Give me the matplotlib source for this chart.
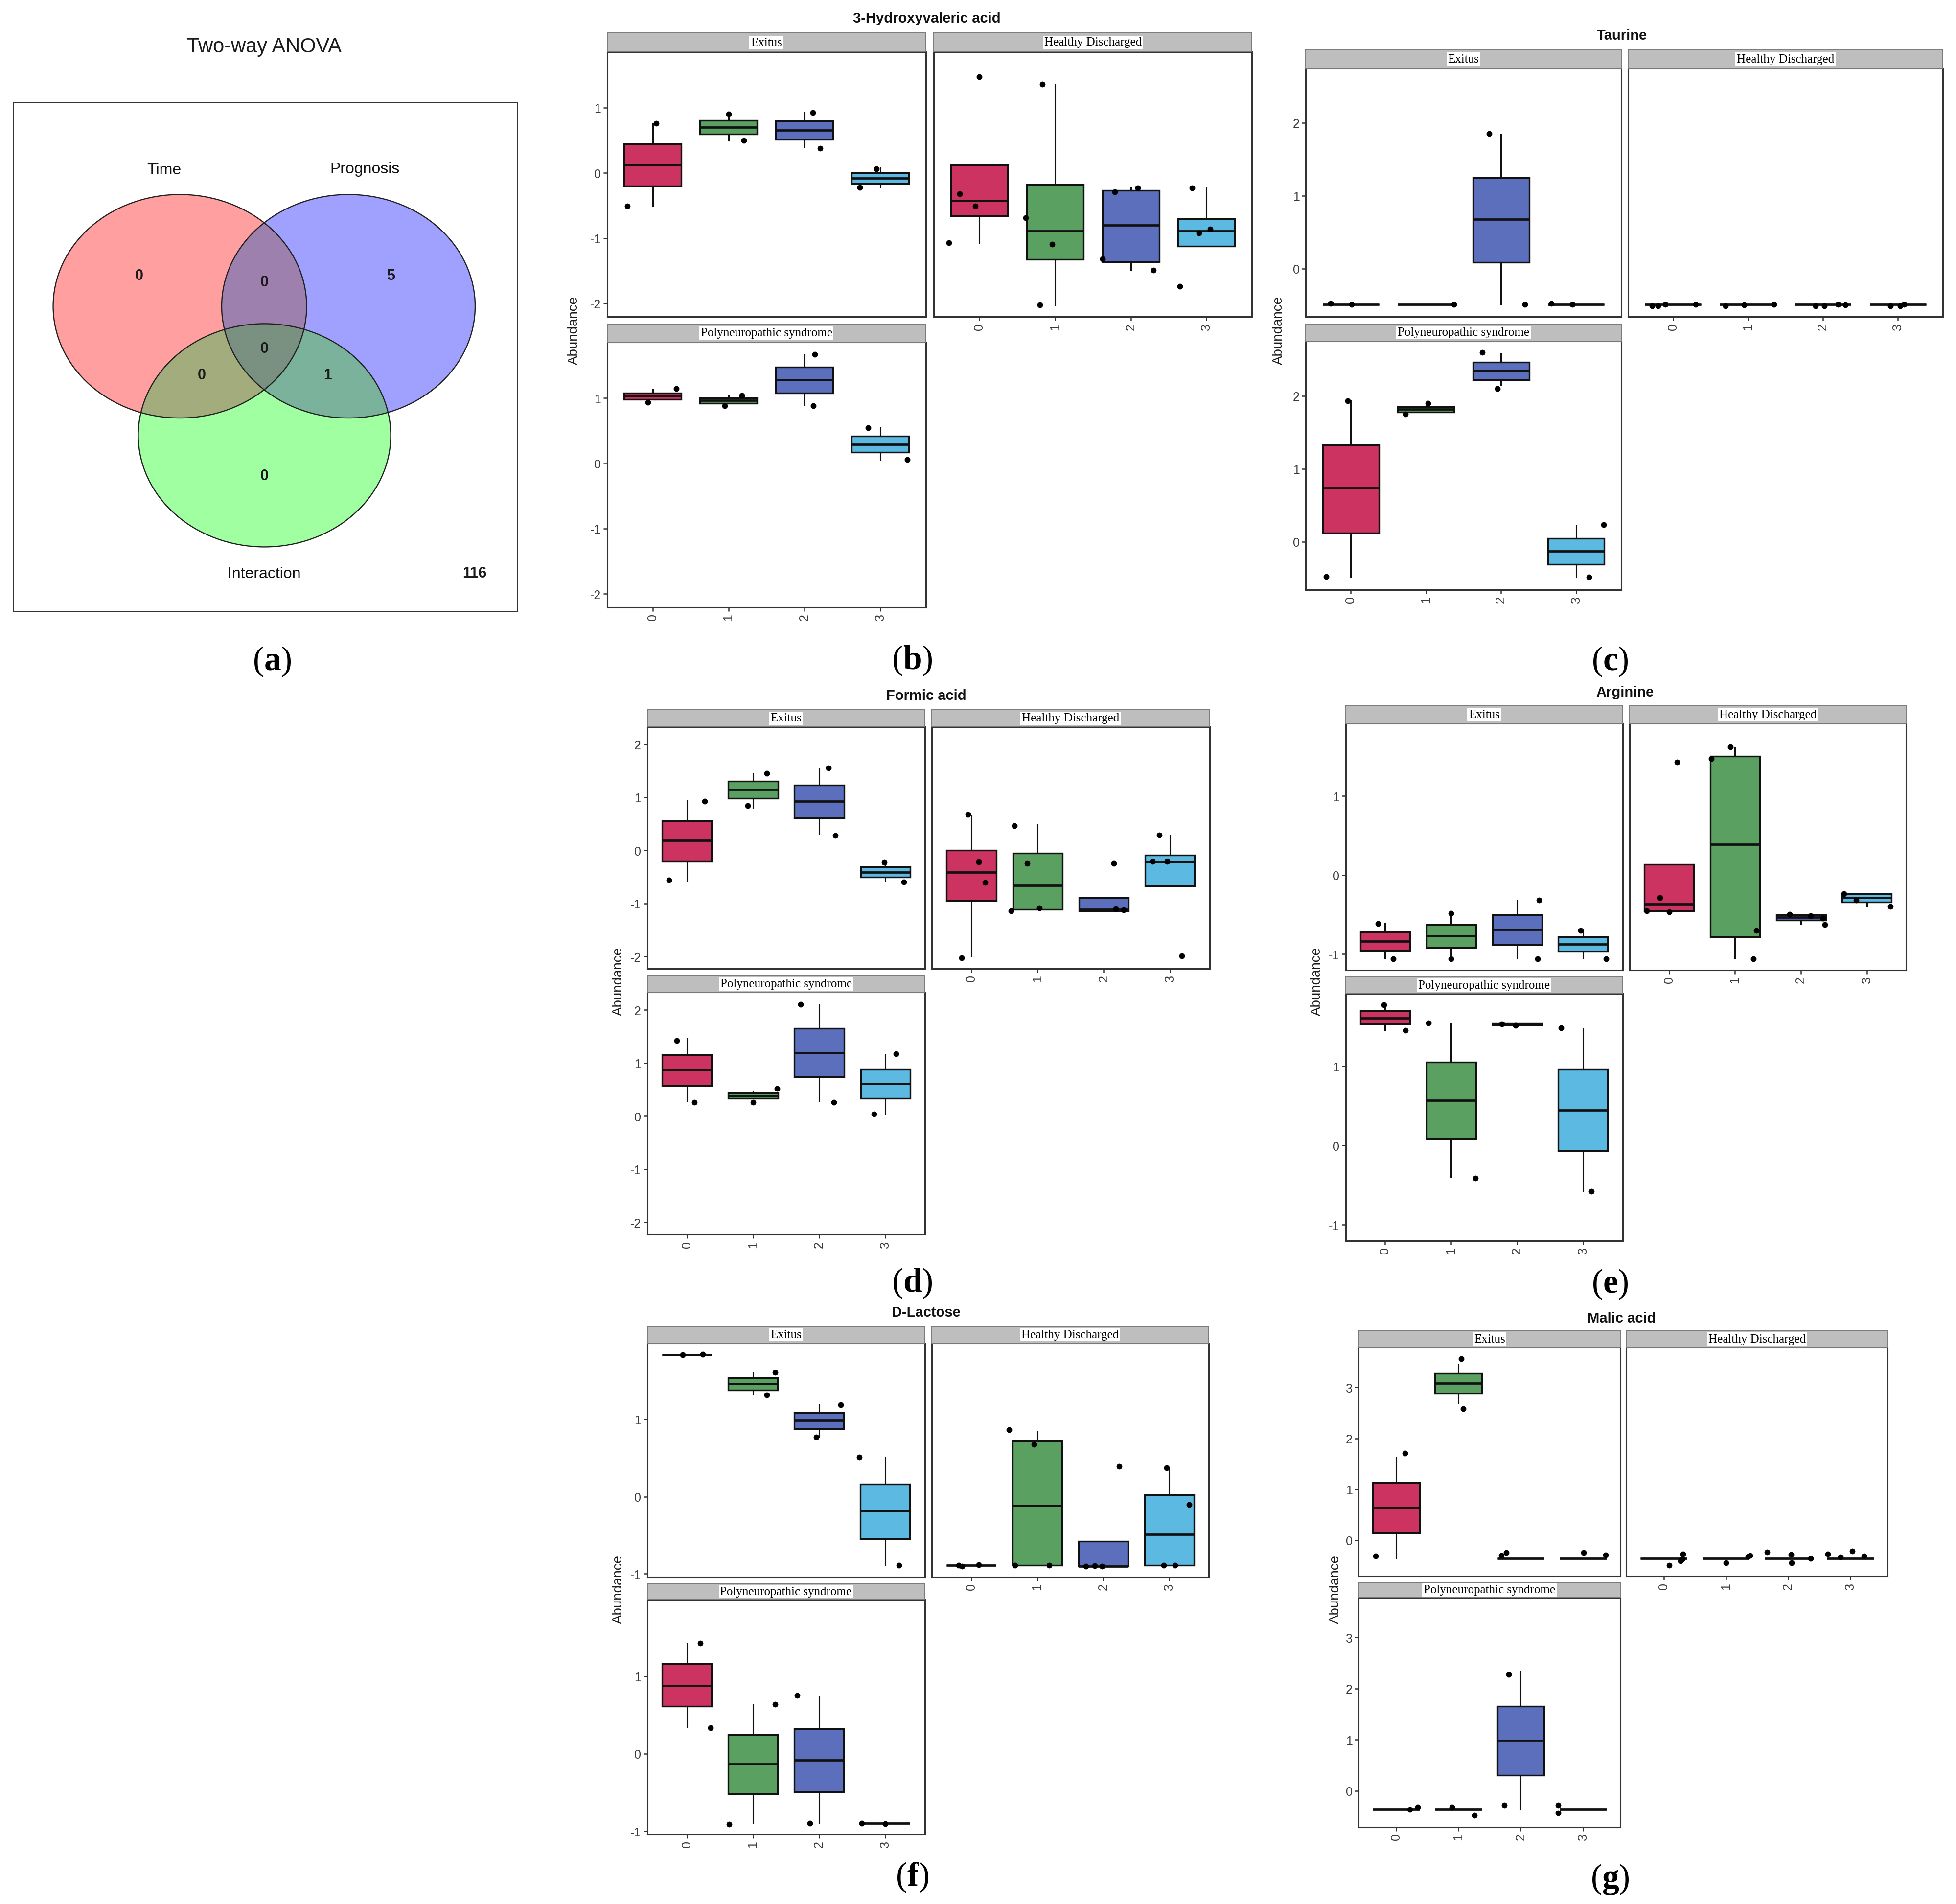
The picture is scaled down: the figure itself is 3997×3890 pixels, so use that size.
import numpy as np
import matplotlib
matplotlib.use('Agg')
import matplotlib.pyplot as plt
from matplotlib.patches import Ellipse

plt.rcParams['font.family'] = ['Liberation Sans', 'DejaVu Sans']
plt.rcParams['axes.unicode_minus'] = False
plt.rcParams['mathtext.fontset'] = 'custom'
plt.rcParams['mathtext.rm'] = 'Liberation Serif'
plt.rcParams['mathtext.bf'] = 'Liberation Serif:bold'

# ---------------------------------------------------------------- data
TIMES = ['0', '1', '2', '3']
FACETS = ['Exitus', 'Healthy Discharged', 'Polyneuropathic syndrome']
TIME_COLORS = ['#CC3361', '#5AA061', '#5B6FBC', '#5BB9E2']

VENN_SETS = ['Time', 'Prognosis', 'Interaction']
# region key: membership in (Time, Prognosis, Interaction)
VENN_COUNTS = {'100': 0, '010': 5, '001': 0, '110': 0, '101': 0, '011': 1, '111': 0}
VENN_OUTSIDE = 116

# box stats per facet (Exitus, Healthy, Poly) x time: [whislo, q1, median, q3, whishi]
HVA_BOX = [
    [[-0.51, -0.20, 0.125, 0.444, 0.76], [0.50, 0.594, 0.70, 0.806, 0.90],
     [0.394, 0.513, 0.656, 0.794, 0.925], [-0.22, -0.1625, -0.08, 0.0, 0.08]],
    [[-1.075, -0.656, -0.425, 0.125, 0.125], [-2.02, -1.325, -0.894, -0.175, 1.356],
     [-1.49, -1.36, -0.80, -0.27, -0.23], [-1.12, -1.12, -0.894, -0.706, -0.23]],
    [[0.98, 0.98, 1.03, 1.075, 1.125], [0.92, 0.92, 0.96, 1.0, 1.04],
     [0.89, 1.075, 1.28, 1.47, 1.66], [0.06, 0.17, 0.29, 0.42, 0.54]],
]
HVA_PTS = [
    [[0.76, -0.51], [0.90, 0.50], [0.925, 0.38], [0.06, -0.22]],
    [[1.475, -0.32, -0.51, -1.07], [1.356, -0.69, -1.09, -2.02],
     [-0.29, -0.23, -1.32, -1.49], [-0.23, -0.92, -0.86, -1.74]],
    [[1.14, 0.93], [1.04, 0.88], [1.67, 0.88], [0.54, 0.06]],
]
HVA_JIT = [
    [[0.05, -0.33], [0.0, 0.2], [0.11, 0.21], [-0.05, -0.27]],
    [[0.0, -0.26, -0.05, -0.40], [-0.17, -0.39, -0.04, -0.2],
     [-0.21, 0.09, -0.37, 0.30], [-0.19, -0.10, 0.05, -0.35]],
    [[0.31, -0.06], [0.18, -0.05], [0.14, 0.12], [-0.16, 0.36]],
]

TAU_BOX = [
    [[-0.49] * 5, [-0.49] * 5, [-0.49, 0.09, 0.68, 1.25, 1.84], [-0.49] * 5],
    [[-0.49] * 5, [-0.49] * 5, [-0.49] * 5, [-0.49] * 5],
    [[-0.486, 0.117, 0.737, 1.33, 1.93], [1.78, 1.78, 1.815, 1.855, 1.9],
     [2.15, 2.22, 2.35, 2.46, 2.58], [-0.486, -0.31, -0.13, 0.045, 0.22]],
]
TAU_PTS = [
    [[-0.48, -0.49], [-0.49], [1.85, -0.49], [-0.48, -0.49]],
    [[-0.51, -0.51, -0.49, -0.49], [-0.51, -0.50, -0.49],
     [-0.51, -0.51, -0.49, -0.50], [-0.51, -0.51, -0.49]],
    [[1.93, -0.48], [1.9, 1.75], [2.6, 2.1], [0.23, -0.49]],
]
TAU_JIT = [
    [[-0.27, 0.01], [0.37], [-0.16, 0.32], [-0.33, -0.05]],
    [[-0.28, -0.2, -0.1, 0.3], [-0.3, -0.05, 0.35], [-0.1, 0.02, 0.2, 0.3], [-0.1, 0.03, 0.08]],
    [[-0.04, -0.33], [0.03, -0.27], [-0.25, -0.05], [0.37, 0.17]],
]

FOR_BOX = [
    [[-0.58, -0.21, 0.185, 0.56, 0.946], [0.81, 0.977, 1.146, 1.3, 1.45],
     [0.31, 0.61, 0.93, 1.23, 1.54], [-0.58, -0.5, -0.41, -0.315, -0.23]],
    [[-2.0, -0.946, -0.41, 0.0, 0.65], [-1.115, -1.115, -0.66, -0.054, 0.49],
     [-1.14, -1.14, -1.115, -0.89, -0.89], [-0.67, -0.67, -0.22, -0.09, 0.29]],
    [[0.276, 0.575, 0.866, 1.157, 1.456], [0.33, 0.33, 0.383, 0.437, 0.475],
     [0.276, 0.736, 1.195, 1.655, 2.107], [0.046, 0.33, 0.613, 0.88, 1.157]],
]
FOR_PTS = [
    [[0.93, -0.56], [1.45, 0.84], [1.55, 0.28], [-0.23, -0.6]],
    [[0.68, -0.22, -0.61, -2.03], [0.46, -0.25, -1.085, -1.14],
     [-0.25, -1.10, -1.12], [0.29, -0.21, -0.21, -1.99]],
    [[1.425, 0.26], [0.52, 0.26], [2.107, 0.26], [1.17, 0.04]],
]
FOR_JIT = [
    [[0.27, -0.27], [0.21, -0.08], [0.14, 0.24], [-0.02, 0.28]],
    [[-0.05, 0.11, 0.21, -0.15], [-0.35, -0.16, 0.03, -0.40],
     [0.15, 0.18, 0.30], [-0.16, -0.26, -0.04, 0.18]],
    [[-0.15, 0.11], [0.36, 0.0], [-0.28, 0.22], [0.16, -0.17]],
]

ARG_BOX = [
    [[-1.057, -0.954, -0.835, -0.72, -0.613], [-1.057, -0.92, -0.77, -0.63, -0.485],
     [-1.057, -0.88, -0.69, -0.505, -0.32], [-1.057, -0.97, -0.876, -0.78, -0.70]],
    [[-0.454, -0.454, -0.37, 0.134, 0.134], [-1.057, -0.784, 0.387, 1.5, 1.61],
     [-0.62, -0.572, -0.536, -0.505, -0.505], [-0.40, -0.345, -0.29, -0.237, -0.237]],
    [[1.45, 1.53, 1.608, 1.696, 1.77], [-0.40, 0.082, 0.572, 1.05, 1.54],
     [1.52, 1.52, 1.53, 1.535, 1.535], [-0.577, -0.067, 0.448, 0.96, 1.474]],
]
ARG_PTS = [
    [[-0.613, -1.06], [-0.485, -1.06], [-0.32, -1.06], [-0.70, -1.06]],
    [[1.43, -0.29, -0.464, -0.454], [1.62, 1.47, -0.70, -1.06],
     [-0.495, -0.515, -0.63, -0.55], [-0.24, -0.32, -0.40]],
    [[1.77, 1.45], [1.546, -0.41], [1.53, 1.515], [1.48, -0.58]],
]
ARG_JIT = [
    [[-0.11, 0.12], [0.0, 0.0], [0.33, 0.31], [-0.04, 0.35]],
    [[0.12, -0.14, 0.0, -0.34], [-0.07, -0.36, 0.32, 0.28],
     [-0.17, 0.15, 0.36, 0.33], [-0.35, -0.16, 0.36]],
    [[-0.02, 0.31], [-0.34, 0.37], [-0.23, -0.02], [-0.33, 0.13]],
]

LAC_BOX = [
    [[1.834] * 5, [1.32, 1.38, 1.46, 1.536, 1.607],
     [0.776, 0.877, 0.987, 1.088, 1.19], [-0.887, -0.55, -0.186, 0.16, 0.514]],
    [[-0.89] * 5, [-0.89, -0.89, -0.116, 0.72, 0.85],
     [-0.9, -0.9, -0.9, -0.58, -0.58], [-0.89, -0.89, -0.49, 0.025, 0.373]],
    [[0.348, 0.61, 0.88, 1.16, 1.425], [-0.9, -0.52, -0.13, 0.247, 0.64],
     [-0.9, -0.494, -0.08, 0.322, 0.73], [-0.9] * 5],
]
LAC_PTS = [
    [[1.834, 1.84], [1.607, 1.315], [1.19, 0.77], [0.514, -0.887]],
    [[-0.89, -0.9, -0.885], [0.866, 0.675, -0.89, -0.89],
     [0.388, -0.9, -0.895, -0.9], [0.373, -0.106, -0.89, -0.89]],
    [[1.43, 0.337], [0.635, -0.91], [0.75, -0.9], [-0.895, -0.905]],
]
LAC_JIT = [
    [[-0.06, 0.24], [0.34, 0.21], [0.33, -0.04], [-0.39, 0.21]],
    [[-0.19, -0.14, 0.11], [-0.43, -0.05, -0.34, 0.18],
     [0.24, -0.26, -0.13, -0.02], [-0.04, 0.30, -0.08, 0.09]],
    [[0.2, 0.36], [0.34, -0.36], [-0.33, -0.14], [-0.35, 0.0]],
]

MAL_BOX = [
    [[-0.358, 0.145, 0.64, 1.135, 1.63], [2.7, 2.88, 3.077, 3.27, 3.46],
     [-0.358] * 5, [-0.358] * 5],
    [[-0.358] * 5, [-0.358] * 5, [-0.358] * 5, [-0.358] * 5],
    [[-0.36] * 5, [-0.36] * 5, [-0.36, 0.306, 0.98, 1.65, 2.33], [-0.36] * 5],
]
MAL_PTS = [
    [[1.71, -0.305], [3.56, 2.58], [-0.30, -0.245], [-0.245, -0.29]],
    [[-0.495, -0.27, -0.41, -0.37], [-0.44, -0.32, -0.30],
     [-0.236, -0.28, -0.44, -0.358], [-0.27, -0.33, -0.21, -0.305]],
    [[-0.367, -0.314], [-0.314, -0.48], [2.28, -0.283], [-0.283, -0.43]],
]
MAL_JIT = [
    [[0.14, -0.33], [0.05, 0.08], [-0.31, -0.23], [0.01, 0.36]],
    [[0.09, 0.31, 0.27, 0.30], [0.0, 0.36, 0.39],
     [-0.34, 0.05, 0.06, 0.36], [-0.36, -0.16, 0.03, 0.22]],
    [[0.22, 0.35], [-0.1, 0.26], [-0.19, -0.26], [-0.4, -0.4]],
]

# ---------------------------------------------------------------- figure
W, H = 3998, 3891
fig = plt.figure(figsize=(W / 100, H / 100), dpi=100)
fig.patch.set_facecolor('white')


def rect(x0, y0, x1, y1):
    return [x0 / W, 1 - y1 / H, (x1 - x0) / W, (y1 - y0) / H]


def ftext(x, y, s, **kw):
    fig.text(x / W, 1 - y / H, s, **kw)


def tag_text(x, y, letter):
    ftext(x, y, '(' + r'$\mathbf{' + letter + '}$' + ')', ha='center', va='center',
          fontsize=50, family=['Liberation Serif', 'DejaVu Serif'], color='black')


DARK = '#111111'
SPINE = '#333333'
TICKC = '#3a3a3a'

# ---------------------------------------------------------------- (a) Venn
VX0, VY0, VX1, VY1 = 26.7, 210, 1057.2, 1250
axv = fig.add_axes(rect(VX0, VY0, VX1, VY1))
ELL = [(367.6, 626.7, 259.0, 228.3), (712.0, 626.7, 259.0, 228.3), (540.5, 890.4, 258.0, 228.0)]
REGION_COLORS = {0: '#FFFFFF', 1: '#FF9F9F', 2: '#A0A0FF', 4: '#A0FFA0',
                 3: '#9E80AE', 5: '#A3AC7C', 6: '#7AB29C', 7: '#7A9080'}
xs = np.linspace(VX0, VX1, 1400)
ys = np.linspace(VY0, VY1, 1400)
XX, YY = np.meshgrid(xs, ys)
code = np.zeros(XX.shape, dtype=int)
for k, (cx, cy, rx, ry) in enumerate(ELL):
    inside = ((XX - cx) / rx) ** 2 + ((YY - cy) / ry) ** 2 <= 1
    code += inside.astype(int) * (1 << k)
lut = np.array([matplotlib.colors.to_rgb(REGION_COLORS[i]) for i in range(8)])
img = lut[code]
axv.imshow(img, extent=(VX0, VX1, VY1, VY0), interpolation='bilinear', aspect='auto', zorder=0)
for (cx, cy, rx, ry) in ELL:
    axv.add_patch(Ellipse((cx, cy), 2 * rx, 2 * ry, fill=False, ec='#202020', lw=1.7, zorder=2))
axv.set_xlim(VX0, VX1)
axv.set_ylim(VY1, VY0)
axv.set_xticks([])
axv.set_yticks([])
for sp in axv.spines.values():
    sp.set_color(SPINE)
    sp.set_linewidth(2.0)

set_label_pos = [(335.3, 348.3), (745.7, 345.8), (540.2, 1173.3)]
for name, (x, y) in zip(VENN_SETS, set_label_pos):
    axv.text(x, y, name, ha='center', va='center', fontsize=23, color='#111111', zorder=3)
region_pos = {'100': (284.1, 564.2), '110': (540.2, 576.7), '010': (798.3, 564.2),
              '111': (540.2, 713.3), '101': (412.5, 766.7), '011': (670.0, 766.7),
              '001': (540.2, 973.3)}
for key, val in VENN_COUNTS.items():
    x, y = region_pos[key]
    axv.text(x, y, str(val), ha='center', va='center', fontsize=22, fontweight='bold',
             color='#1a1a1a', zorder=3)
axv.text(970.2, 1172.5, str(VENN_OUTSIDE), ha='center', va='center', fontsize=22,
         fontweight='bold', color='#1a1a1a', zorder=3)
ftext(540, 96, 'Two-way ANOVA', ha='center', va='center', fontsize=30, color='#1a1a1a')


# ---------------------------------------------------------------- box panels
def draw_box_panel(ax, boxes, pts, jit, ylim, yticks, show_y, show_x):
    stats = [dict(whislo=b[0], q1=b[1], med=b[2], q3=b[3], whishi=b[4], fliers=[]) for b in boxes]
    bp = ax.bxp(stats, positions=range(len(TIMES)), widths=0.75, patch_artist=True,
                showcaps=False, showfliers=False,
                boxprops=dict(linewidth=2.4, edgecolor=DARK),
                medianprops=dict(color=DARK, linewidth=3.4),
                whiskerprops=dict(color=DARK, linewidth=2.2))
    for patch, c in zip(bp['boxes'], TIME_COLORS):
        patch.set_facecolor(c)
    for i in range(len(TIMES)):
        ax.scatter(i + np.array(jit[i]), pts[i], s=72, color='black', zorder=5, linewidths=0)
    ax.set_xlim(-0.6, len(TIMES) - 0.4)
    ax.set_ylim(*ylim)
    ax.set_xticks(range(len(TIMES)))
    ax.set_yticks(yticks)
    ax.tick_params(length=6, width=1.8, color=SPINE, labelsize=18, labelcolor=TICKC, pad=3)
    if show_x:
        ax.set_xticklabels(TIMES, rotation=90)
    else:
        ax.tick_params(axis='x', length=0, labelbottom=False)
    if show_y:
        ax.set_yticklabels([str(t) for t in yticks])
    else:
        ax.tick_params(axis='y', length=0, labelleft=False)
    for sp in ax.spines.values():
        sp.set_color(SPINE)
        sp.set_linewidth(2.2)
    ax.set_facecolor('white')


def draw_strip(x0, y0, x1, y1, label):
    axs = fig.add_axes(rect(x0, y0, x1, y1))
    axs.set_facecolor('#BEBEBE')
    axs.set_xticks([])
    axs.set_yticks([])
    for sp in axs.spines.values():
        sp.set_color('#7a7a7a')
        sp.set_linewidth(1.4)
    axs.text(0.5, 0.5, label, transform=axs.transAxes, ha='center', va='center',
             fontsize=18, family=['Liberation Serif', 'DejaVu Serif'], color='black',
             bbox=dict(facecolor='white', edgecolor='none', pad=2))


def metabolite(title, boxes, pts, jit, ylim, yticks, L, title_xy, ylab_xy, tag, tag_xy):
    (xl0, xl1, xr0, xr1, s1, p1, b1, s2, p2, b2) = L
    # Exitus
    ax = fig.add_axes(rect(xl0, p1, xl1, b1))
    draw_box_panel(ax, boxes[0], pts[0], jit[0], ylim, yticks, True, False)
    draw_strip(xl0, s1, xl1, p1, FACETS[0])
    # Healthy Discharged
    ax = fig.add_axes(rect(xr0, p1, xr1, b1))
    draw_box_panel(ax, boxes[1], pts[1], jit[1], ylim, yticks, False, True)
    draw_strip(xr0, s1, xr1, p1, FACETS[1])
    # Polyneuropathic syndrome
    ax = fig.add_axes(rect(xl0, p2, xl1, b2))
    draw_box_panel(ax, boxes[2], pts[2], jit[2], ylim, yticks, True, True)
    draw_strip(xl0, s2, xl1, p2, FACETS[2])
    ftext(title_xy[0], title_xy[1], title, ha='center', va='center', fontsize=21,
          fontweight='bold', color='#111111')
    ftext(ylab_xy[0], ylab_xy[1], 'Abundance', ha='center', va='center', fontsize=20,
          rotation=90, color='#1a1a1a')
    tag_text(tag_xy[0], tag_xy[1], tag)


metabolite('3-Hydroxyvaleric acid', HVA_BOX, HVA_PTS, HVA_JIT, (-2.206, 1.856), [-2, -1, 0, 1],
           (1240.6, 1891.6, 1908.3, 2558.3, 68.3, 106.7, 648.3, 662.5, 700.0, 1241.7),
           (1894, 38), (1173, 675), 'b', (1864, 1350))
metabolite('Taurine', TAU_BOX, TAU_PTS, TAU_JIT, (-0.66, 2.75), [0, 1, 2],
           (2668.2, 3312.7, 3326.6, 3970.2, 103.3, 140.0, 648.3, 662.5, 698.3, 1205.8),
           (3314, 73), (2613, 675), 'c', (3290, 1352))
metabolite('Formic acid', FOR_BOX, FOR_PTS, FOR_JIT, (-2.23, 2.33), [-2, -1, 0, 1, 2],
           (1322.6, 1890.4, 1903.9, 2471.7, 1450.8, 1485.8, 1980.0, 1994.2, 2028.3, 2523.3),
           (1893, 1422), (1264, 2005), 'd', (1864, 2622))
metabolite('Arginine', ARG_BOX, ARG_PTS, ARG_JIT, (-1.2, 1.915), [-1, 0, 1],
           (2749.5, 3315.8, 3330.0, 3895.5, 1443.3, 1479.2, 1982.5, 1996.7, 2030.8, 2535.8),
           (3320, 1415), (2691, 2005), 'e', (3290, 2624))
metabolite('D-Lactose', LAC_BOX, LAC_PTS, LAC_JIT, (-1.04, 1.99), [-1, 0, 1],
           (1322.6, 1889.5, 1903.9, 2470.1, 2710.5, 2744.7, 3222.8, 3236.3, 3268.9, 3748.6),
           (1892, 2682), (1264, 3247), 'f', (1864, 3836))
metabolite('Malic acid', MAL_BOX, MAL_PTS, MAL_JIT, (-0.705, 3.78), [0, 1, 2, 3],
           (2776.4, 3311.2, 3323.3, 3857.2, 2720.0, 2754.2, 3221.2, 3233.9, 3265.0, 3733.5),
           (3314, 2694), (2729, 3247), 'g', (3290, 3840))

tag_text(556, 1352, 'a')

fig.savefig('out.png', dpi=100, facecolor='white')
